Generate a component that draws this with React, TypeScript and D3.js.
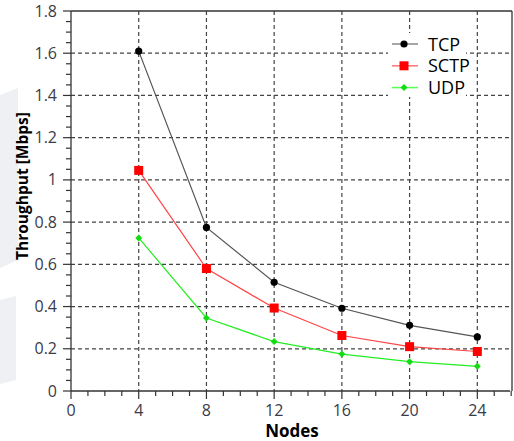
import React from "react";
import * as d3 from "d3";

const nodes = [4, 8, 12, 16, 20, 24];
const tcp = [1.61, 0.775, 0.515, 0.392, 0.311, 0.256];
const sctp = [1.045, 0.58, 0.393, 0.263, 0.21, 0.187];
const udp = [0.725, 0.346, 0.234, 0.175, 0.139, 0.117];
const xTicks = [0, 4, 8, 12, 16, 20, 24];
const yTicks = [0, 0.2, 0.4, 0.6, 0.8, 1, 1.2, 1.4, 1.6, 1.8];
const seriesNames = ["TCP", "SCTP", "UDP"];

export default function App() {
  const W = 514, H = 441;
  const left = 71, right = 512, top = 11, bottom = 391;
  const x = d3.scaleLinear().domain([0, 26]).range([left, left + 26 * 16.93]);
  const y = d3.scaleLinear().domain([0, 1.8]).range([bottom, top]);
  const line = d3.line<number>().x((_, i) => x(nodes[i])).y((d) => y(d));
  const xMinor = d3.range(0, 26.01, 1);
  const yMinor = d3.range(0, 1.801, 0.05);
  const labelColor = "#3a3a48";
  const font = "'Open Sans', 'Noto Sans', sans-serif";
  const series = [
    { name: seriesNames[0], data: tcp, line: "#555555", legLine: "#888888", marker: "circle", color: "#000000" },
    { name: seriesNames[1], data: sctp, line: "#ff4444", legLine: "#ff7777", marker: "square", color: "#ff0000" },
    { name: seriesNames[2], data: udp, line: "#22ee22", legLine: "#55ff55", marker: "diamond", color: "#11dd11" },
  ];
  const marker = (m: string, cx: number, cy: number, c: string, k: string) => {
    if (m === "circle") return <circle key={k} cx={cx} cy={cy} r={3.6} fill={c} />;
    if (m === "square") return <rect key={k} x={cx - 4.5} y={cy - 4.5} width={9} height={9} fill={c} />;
    return <path key={k} d={`M${cx},${cy - 3.5}L${cx + 3.5},${cy}L${cx},${cy + 3.5}L${cx - 3.5},${cy}Z`} fill={c} />;
  };
  return (
    <svg width={W} height={H} style={{ display: "block", position: "absolute", left: 0, top: 0 }}>
      <rect width={W} height={H} fill="#fff" />
      <path d="M0,95 L18,88 L18,260 L0,268 Z" fill="#eef0f4" />
      <path d="M0,300 L16,296 L16,380 L0,384 Z" fill="#eef0f4" />
      {/* grid */}
      {yTicks.slice(1, -1).map((t) => (
        <line key={"gy" + t} x1={left} x2={right} y1={y(t)} y2={y(t)} stroke="#444" strokeWidth={1.2} strokeDasharray="4,3" />
      ))}
      {xTicks.slice(1).map((t) => (
        <line key={"gx" + t} x1={x(t)} x2={x(t)} y1={top} y2={bottom} stroke="#444" strokeWidth={1.2} strokeDasharray="4,3" />
      ))}
      {/* frame */}
      <line x1={left} x2={right} y1={top} y2={top} stroke="#333" strokeWidth={1.3} />
      <line x1={right} x2={right} y1={top} y2={bottom} stroke="#333" strokeWidth={1.3} />
      <line x1={left} x2={left} y1={top} y2={bottom} stroke="#333" strokeWidth={1.3} />
      <line x1={left} x2={510} y1={bottom} y2={bottom} stroke="#333" strokeWidth={1.3} />
      {/* ticks */}
      {yMinor.map((t, i) => (
        <line key={"ym" + i} x1={i % 4 === 0 ? left - 8 : left - 5} x2={left} y1={y(t)} y2={y(t)} stroke="#333" strokeWidth={1.2} />
      ))}
      {xMinor.map((t, i) => (
        <line key={"xm" + i} x1={x(t)} x2={x(t)} y1={bottom} y2={i % 4 === 0 ? bottom + 8 : bottom + 5} stroke="#333" strokeWidth={1.2} />
      ))}
      {yTicks.map((t) => (
        <text key={"yl" + t} x={left - 14} y={y(t) + 5.5} textAnchor="end" fontSize={16} fontFamily={font} fill={labelColor}>
          {d3.format("~g")(t)}
        </text>
      ))}
      {xTicks.map((t) => (
        <text key={"xl" + t} x={x(t)} y={bottom + 25} textAnchor="middle" fontSize={16} fontFamily={font} fill={labelColor}>
          {t}
        </text>
      ))}
      <text x={292} y={437} textAnchor="middle" fontSize={17} fontWeight="bold" fontFamily={font} fill="#000">
        Nodes
      </text>
      <text transform={`translate(28,${186}) rotate(-90)`} textAnchor="middle" fontSize={15.5} fontWeight="bold" fontFamily={font} fill="#000">
        Throughput [Mbps]
      </text>
      {/* series */}
      {series.map((s) => (
        <g key={s.name}>
          <path d={line(s.data) || ""} fill="none" stroke={s.line} strokeWidth={1.2} />
          {s.data.map((v, i) => marker(s.marker, x(nodes[i]), y(v), s.color, s.name + i))}
        </g>
      ))}
      {/* legend */}
      <rect x={388} y={33} width={78} height={64} fill="#fff" />
      {series.map((s, i) => {
        const ly = 44 + i * 21.8;
        return (
          <g key={"lg" + s.name}>
            <line x1={392} x2={418} y1={ly} y2={ly} stroke={s.legLine} strokeWidth={1.5} />
            {marker(s.marker, 404, ly, s.color, "lm" + i)}
            <text x={428} y={ly + 6.5} fontSize={18} fontFamily={font} fill="#000">
              {s.name}
            </text>
          </g>
        );
      })}
    </svg>
  );
}
